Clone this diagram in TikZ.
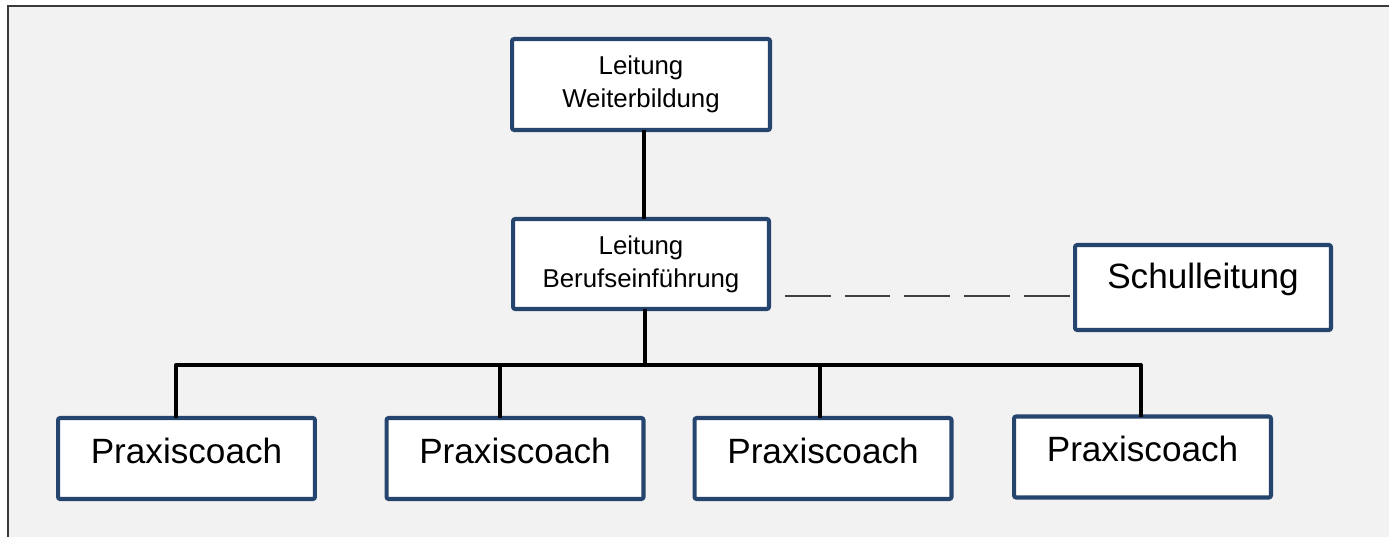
\documentclass[tikz,border=0pt]{standalone}
\usepackage{fontspec}
\setmainfont{Liberation Sans}
\definecolor{bgray}{HTML}{F2F2F2}
\definecolor{boxblue}{HTML}{25456F}
\definecolor{frameg}{HTML}{3A3A3A}
\definecolor{dashg}{HTML}{404040}
\begin{document}
\begin{tikzpicture}[x=0.02cm,y=-0.02cm,
  orgbox/.style={draw=boxblue, line width=2.3pt, fill=white, rounded corners=1.2pt,
    inner sep=0pt, outer sep=0pt, align=center},
  smalltext/.style={font=\fontsize{14.7}{18.7}\selectfont},
  bigtext/.style={font=\fontsize{20}{24}\selectfont},
  conn/.style={line width=2.3pt, black},
  dashconn/.style={line width=1.7pt, dashg, dash pattern=on 26pt off 8pt}]
  \useasboundingbox (0,0) rectangle (1389,537);
  % background and frame
  \fill[white] (0,0) rectangle (1389,537);
  \fill[bgray] (8,6) rectangle (1389,537);
  \draw[frameg, line width=1.2pt] (8,540) -- (8,6) -- (1392,6);

  % nodes
  \node[orgbox, smalltext, minimum width=5.16cm, minimum height=1.82cm] (top) at (641,84.5) {Leitung\\Weiterbildung};
  \node[orgbox, smalltext, minimum width=5.12cm, minimum height=1.80cm] (mid) at (641,264) {Leitung\\Berufseinführung};
  \node[orgbox, bigtext, minimum width=5.12cm, minimum height=1.70cm, text height=15pt, text depth=14pt] (schul) at (1203,287.5) {Schulleitung};
  \node[orgbox, bigtext, minimum width=5.14cm, minimum height=1.62cm, text height=15pt, text depth=9.7pt] (p1) at (186.5,458.5) {Praxiscoach};
  \node[orgbox, bigtext, minimum width=5.14cm, minimum height=1.62cm, text height=15pt, text depth=9.7pt] (p2) at (515,458.5) {Praxiscoach};
  \node[orgbox, bigtext, minimum width=5.14cm, minimum height=1.62cm, text height=15pt, text depth=9.7pt] (p3) at (823,458.5) {Praxiscoach};
  \node[orgbox, bigtext, minimum width=5.14cm, minimum height=1.62cm, text height=15pt, text depth=9.7pt] (p4) at (1142.5,457) {Praxiscoach};

  % bus coordinates
  \coordinate (bt) at (645,365);
  \coordinate (j1) at (176,365);
  \coordinate (j2) at (500,365);
  \coordinate (j3) at (820,365);
  \coordinate (j4) at (1141,365);
  \coordinate (tt) at (644,200);
  \coordinate (dstart) at (785,296);

  % connectors
  \draw[conn] (top.south -| tt) -- (mid.north -| tt);
  \draw[conn] (mid.south -| bt) -- (bt);
  \draw[conn, line join=round] (j1 |- p1.north) -- (j1) -- (j4) -- (j4 |- p4.north);
  \draw[conn] (j2) -- (j2 |- p2.north);
  \draw[conn] (j3) -- (j3 |- p3.north);
  \draw[dashconn] (dstart) -- (dstart -| schul.west);
\end{tikzpicture}
\end{document}
